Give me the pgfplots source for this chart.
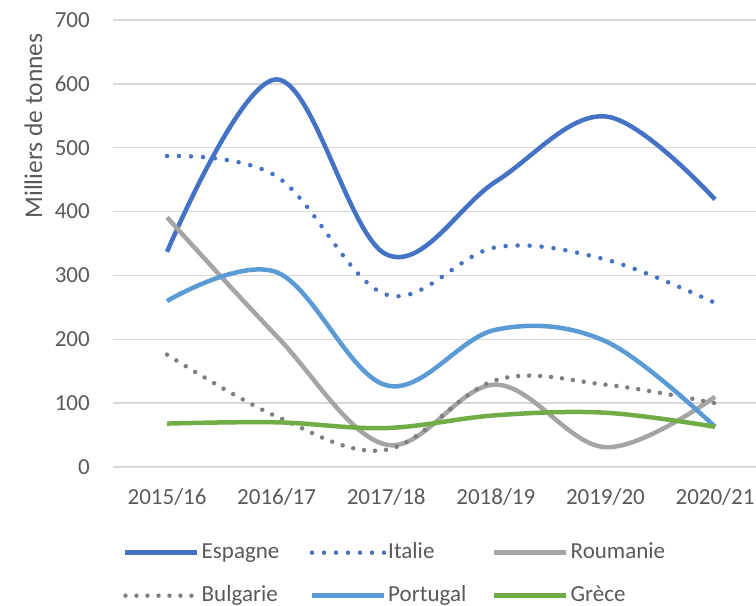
\documentclass[border=0pt]{standalone}
\usepackage{fontspec}
\setmainfont{Carlito}
\usepackage{pgfplots}
\pgfplotsset{compat=1.18}
\definecolor{esp}{HTML}{4472C4}
\definecolor{rou}{HTML}{A5A5A5}
\definecolor{bul}{HTML}{7F7F7F}
\definecolor{por}{HTML}{5B9BD5}
\definecolor{gre}{HTML}{70AD47}
\definecolor{txt}{HTML}{595959}
\definecolor{grd}{HTML}{D9D9D9}
\newcommand{\lf}{\fontsize{23bp}{27bp}\selectfont}
\begin{document}
\begin{tikzpicture}
\begin{axis}[
  at={(113bp,139bp)}, anchor=south west,
  scale only axis, width=643bp, height=447bp,
  xmin=-0.493, xmax=5.374, ymin=0, ymax=700,
  axis line style={draw=none},
  ymajorgrids, grid style={grd, line width=1.3bp},
  major tick length=0pt,
  xtick={0,1,2,3,4,5},
  xticklabels={2015/16,2016/17,2017/18,2018/19,2019/20,2020/21},
  ytick={0,100,...,700},
  tick label style={font=\lf, text=txt},
  /pgf/number format/assume math mode=true,
  yticklabel style={inner sep=0pt, xshift=-23bp},
  xticklabel style={inner sep=0pt, yshift=-21bp},
  ylabel={Milliers de tonnes},
  ylabel style={font=\fontsize{25.5bp}{30bp}\selectfont, text=txt, at={(axis description cs:-0.124,0.763)}, anchor=center},
  legend columns=3,
  legend cell align=left,
  legend image code/.code={\draw[#1] (0bp,0bp) -- (72bp,0bp);},
  legend style={at={(axis description cs:0.0156,-0.161)}, anchor=north west,
    draw=none, fill=none, inner sep=0pt, column sep=0pt, row sep=16bp,
    /tikz/every even column/.style={column sep=0pt},
    /tikz/every odd column/.style={column sep=0pt},
    nodes={inner xsep=2bp, inner ysep=3bp, text=txt, font=\lf, text height=16bp, text depth=5bp}},
  every axis plot/.append style={line width=4.5bp, smooth, tension=0.6, mark=none},
]
\addplot[esp] coordinates {(0,337) (1,607) (2,333) (3,447) (4,549) (5,419)};
\addlegendentry{\makebox[106bp][l]{Espagne}}
\addplot[esp, line cap=round, dash pattern=on 0bp off 12bp] coordinates {(0,487) (1,455) (2,270) (3,344) (4,325) (5,257)};
\addlegendentry{\makebox[102bp][l]{Italie}}
\addplot[rou] coordinates {(0,391) (1,205) (2,35) (3,129) (4,31) (5,110)};
\addlegendentry{\makebox[100bp][l]{Roumanie}}
\addplot[bul, line cap=round, dash pattern=on 0bp off 11bp] coordinates {(0,176) (1,79) (2,27) (3,136) (4,129) (5,100)};
\addlegendentry{\makebox[106bp][l]{Bulgarie}}
\addplot[por] coordinates {(0,260) (1,305) (2,128) (3,215) (4,197) (5,63)};
\addlegendentry{\makebox[102bp][l]{Portugal}}
\addplot[gre] coordinates {(0,68) (1,70) (2,61) (3,81) (4,85) (5,63)};
\addlegendentry{\makebox[100bp][l]{Grèce}}
\end{axis}
\pgfresetboundingbox
\useasboundingbox (0,0) rectangle (756bp,606bp);
\end{tikzpicture}
\end{document}
